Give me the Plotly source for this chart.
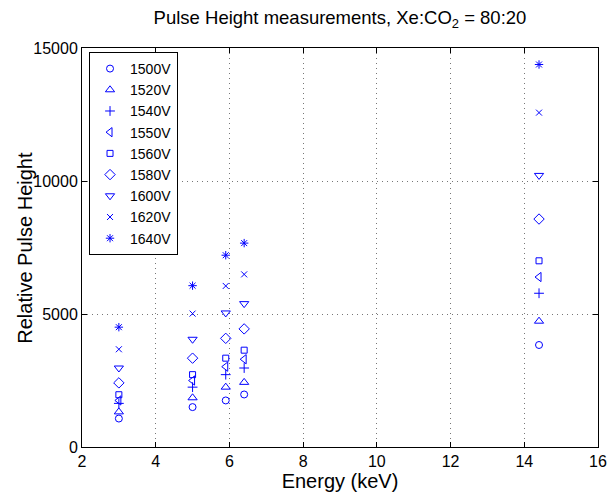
import plotly.graph_objects as go

energies = [3.0, 5.0, 5.9, 6.4, 14.4]
labels = ["1500V", "1520V", "1540V", "1550V", "1560V", "1580V", "1600V", "1620V", "1640V"]
v1500 = [1070, 1500, 1750, 1975, 3835]
v1520 = [1320, 1850, 2250, 2430, 4730]
v1540 = [1640, 2250, 2720, 2970, 5780]
v1550 = [1750, 2500, 3020, 3300, 6390]
v1560 = [1965, 2720, 3340, 3640, 7000]
v1580 = [2410, 3340, 4085, 4440, 8570]
v1600 = [2970, 4050, 5040, 5390, 10210]
v1620 = [3675, 5015, 6055, 6490, 12570]
v1640 = [4505, 6065, 7210, 7665, 14380]
series = [v1500, v1520, v1540, v1550, v1560, v1580, v1600, v1620, v1640]
xticks = [2, 4, 6, 8, 10, 12, 14, 16]
yticks = [0, 5000, 10000, 15000]
ytick_text = ["0", "5000", "10000", "15000"]

symbols = ["circle-open", "triangle-up-open", "cross-thin-open", "triangle-left-open",
           "square-open", "diamond-open", "triangle-down-open", "x-thin-open", "asterisk-open"]
sizes = [7, 8, 7, 8, 6, 8, 8, 6, 7]

fig = go.Figure()
for lab, vals, sym, sz in zip(labels, series, symbols, sizes):
    fig.add_trace(go.Scatter(x=energies, y=vals, mode="markers", name=lab,
                             marker=dict(symbol=sym, size=sz, color="#0000ff",
                                         line=dict(color="#0000ff", width=1))))

axis_common = dict(showline=True, linecolor="black", linewidth=1, mirror="ticks",
                   ticks="inside", ticklen=5, tickcolor="black", automargin=False,
                   showgrid=True, gridcolor="#777777", griddash="1px,4px", gridwidth=1,
                   zeroline=False, tickfont=dict(size=16, color="black"))

fig.update_layout(
    width=612, height=495,
    paper_bgcolor="white", plot_bgcolor="white",
    margin=dict(l=82, r=14, t=48, b=48),
    font=dict(family="Liberation Sans, Arial, sans-serif", color="black"),
    title=dict(text="Pulse Height measurements, Xe:CO<sub>2</sub> = 80:20",
               x=0.5, xref="paper", y=0.965, yref="container", xanchor="center", yanchor="middle",
               font=dict(size=18.5, color="black")),
    xaxis=dict(range=[2, 16], tickvals=xticks,
               title=dict(text="Energy (keV)", font=dict(size=20), standoff=4), **axis_common),
    yaxis=dict(range=[0, 15000], tickvals=yticks, ticktext=ytick_text, **axis_common),
    annotations=[dict(text="Relative Pulse Height", textangle=-90, showarrow=False,
                      xref="paper", yref="paper", x=-0.112, y=0.5,
                      xanchor="center", yanchor="middle", font=dict(size=20, color="black"))],
    legend=dict(x=0.0136, y=0.99, xanchor="left", yanchor="top",
                bordercolor="black", borderwidth=1, bgcolor="white",
                font=dict(size=14, color="black"),
                tracegroupgap=0, itemwidth=30),
    showlegend=True,
)

fig.write_html("out.html")
